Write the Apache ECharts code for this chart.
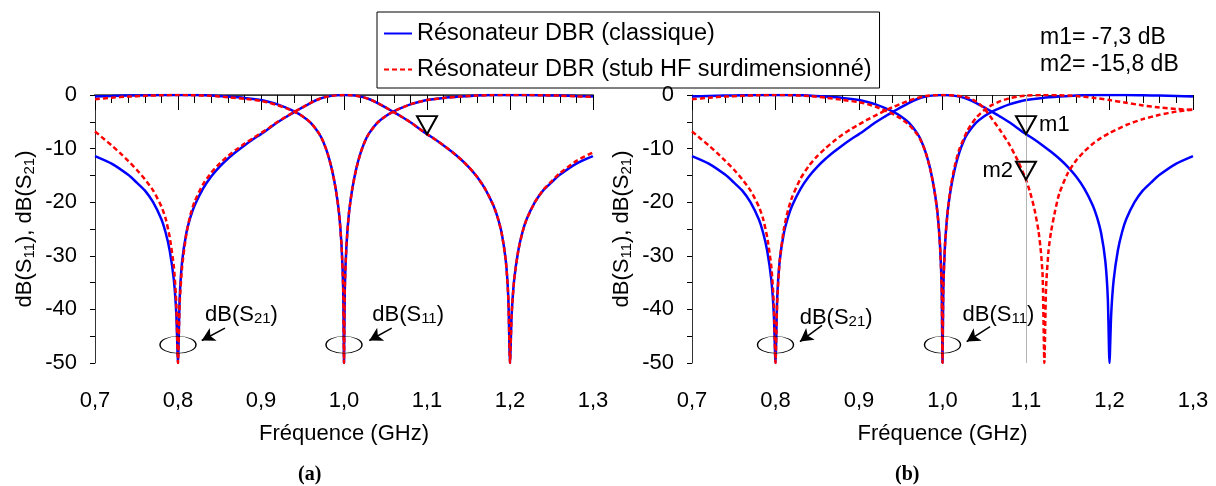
<!DOCTYPE html>
<html>
<head>
<meta charset="utf-8">
<script src="https://cdn.jsdelivr.net/npm/echarts@6/dist/echarts.min.js"></script>
<style>
  html, body { margin: 0; padding: 0; background: #fff; }
  #chart { width: 1216px; height: 486px; }
</style>
</head>
<body>
<div id="chart"></div>
<script>
// [fréquence GHz, dB] lus sur la figure
// résonateur classique (identique sur (a) et (b))
var blueS11 = [[0.70,-0.3],[0.72,-0.2],[0.74,-0.1],[0.76,-0.05],[0.78,0],[0.80,0],[0.82,-0.02],[0.84,-0.1],[0.86,-0.3],[0.88,-0.55],[0.90,-0.95],[0.91,-1.3],[0.92,-1.75],[0.93,-2.35],[0.94,-3.05],[0.95,-3.95],[0.96,-5.2],[0.97,-7.2],[0.975,-8.7],[0.98,-10.8],[0.985,-13.6],[0.99,-17.5],[0.994,-22],[0.997,-28],[0.999,-36],[1.0,-50],[1.001,-36],[1.003,-28],[1.006,-22],[1.01,-17.5],[1.015,-13.6],[1.02,-10.8],[1.025,-8.7],[1.03,-7.2],[1.04,-5.2],[1.05,-3.95],[1.06,-3.05],[1.07,-2.35],[1.08,-1.75],[1.09,-1.3],[1.10,-0.95],[1.12,-0.55],[1.14,-0.3],[1.16,-0.1],[1.18,-0.02],[1.20,0],[1.22,0],[1.24,-0.05],[1.26,-0.1],[1.28,-0.2],[1.30,-0.3]]
var blueS21 = [[0.70,-11.4],[0.72,-12.8],[0.74,-14.9],[0.75,-16.3],[0.76,-17.8],[0.77,-20.0],[0.78,-23.2],[0.785,-25.6],[0.79,-29],[0.795,-34.5],[0.798,-41],[0.80,-50],[0.802,-38],[0.805,-31],[0.81,-25.8],[0.815,-22.8],[0.82,-20.6],[0.83,-17.5],[0.84,-15.2],[0.85,-13.4],[0.86,-11.9],[0.87,-10.6],[0.88,-9.4],[0.89,-8.3],[0.90,-7.3],[0.91,-6.2],[0.92,-5.1],[0.93,-4.1],[0.94,-3.2],[0.95,-2.3],[0.96,-1.45],[0.97,-0.75],[0.98,-0.3],[0.99,-0.07],[1.00,0],[1.01,-0.07],[1.02,-0.3],[1.03,-0.75],[1.04,-1.45],[1.05,-2.3],[1.06,-3.2],[1.07,-4.1],[1.08,-5.1],[1.09,-6.2],[1.10,-7.3],[1.11,-8.3],[1.12,-9.4],[1.13,-10.6],[1.14,-11.9],[1.15,-13.4],[1.16,-15.2],[1.17,-17.5],[1.18,-20.6],[1.185,-22.8],[1.19,-25.8],[1.195,-31],[1.198,-38],[1.20,-50],[1.202,-41],[1.205,-34.5],[1.21,-29],[1.215,-25.6],[1.22,-23.2],[1.23,-20.0],[1.24,-17.8],[1.25,-16.3],[1.26,-14.9],[1.28,-12.8],[1.30,-11.4]]

// stub HF surdimensionné, figure (a)
var redS11a = [[0.70,-0.8],[0.72,-0.5],[0.74,-0.3],[0.76,-0.15],[0.78,-0.05],[0.80,0],[0.82,-0.05],[0.84,-0.15],[0.86,-0.4],[0.88,-0.7],[0.90,-1.1],[0.91,-1.45],[0.92,-1.9],[0.93,-2.45],[0.94,-3.1],[0.95,-3.95],[0.96,-5.2],[0.97,-7.2],[0.975,-8.7],[0.98,-10.8],[0.985,-13.6],[0.99,-17.5],[0.994,-22],[0.997,-28],[0.999,-36],[1.0,-50],[1.001,-36],[1.003,-28],[1.006,-22],[1.01,-17.5],[1.015,-13.6],[1.02,-10.8],[1.025,-8.7],[1.03,-7.2],[1.04,-5.2],[1.05,-3.95],[1.06,-3.05],[1.07,-2.35],[1.08,-1.75],[1.09,-1.3],[1.10,-0.95],[1.12,-0.55],[1.14,-0.3],[1.16,-0.1],[1.18,-0.02],[1.20,0],[1.22,0],[1.24,-0.05],[1.26,-0.12],[1.28,-0.25],[1.30,-0.35]]
var redS21a = [[0.70,-6.8],[0.71,-8.1],[0.72,-9.4],[0.73,-10.8],[0.74,-12.3],[0.75,-13.9],[0.76,-15.7],[0.77,-17.8],[0.78,-20.8],[0.785,-23],[0.79,-26.5],[0.795,-32],[0.798,-39],[0.80,-50],[0.802,-39],[0.805,-32],[0.81,-26],[0.815,-22.3],[0.82,-19.9],[0.83,-16.7],[0.84,-14.5],[0.85,-12.8],[0.86,-11.4],[0.87,-10.2],[0.88,-9.1],[0.89,-8.1],[0.90,-7.1],[0.91,-6.1],[0.92,-5.0],[0.93,-4.05],[0.94,-3.15],[0.95,-2.3],[0.96,-1.45],[0.97,-0.75],[0.98,-0.3],[0.99,-0.07],[1.00,0],[1.01,-0.07],[1.02,-0.3],[1.03,-0.75],[1.04,-1.45],[1.05,-2.3],[1.06,-3.2],[1.07,-4.1],[1.08,-5.1],[1.09,-6.2],[1.10,-7.3],[1.11,-8.3],[1.12,-9.4],[1.13,-10.6],[1.14,-11.9],[1.15,-13.4],[1.16,-15.2],[1.17,-17.5],[1.18,-20.6],[1.185,-22.8],[1.19,-25.8],[1.195,-31],[1.198,-38],[1.20,-50],[1.202,-41],[1.205,-34.5],[1.21,-29],[1.215,-25.6],[1.22,-23.2],[1.23,-20.0],[1.24,-17.7],[1.25,-16.1],[1.26,-14.6],[1.28,-12.3],[1.30,-10.7]]

// stub HF surdimensionné, figure (b)
var redS11b = [[0.70,-0.8],[0.72,-0.5],[0.74,-0.3],[0.76,-0.15],[0.78,-0.05],[0.80,0],[0.82,-0.05],[0.84,-0.2],[0.86,-0.5],[0.88,-0.9],[0.90,-1.35],[0.91,-1.7],[0.92,-2.2],[0.93,-2.8],[0.94,-3.5],[0.95,-4.4],[0.96,-5.6],[0.97,-7.4],[0.975,-8.8],[0.98,-10.8],[0.985,-13.6],[0.99,-17.5],[0.994,-22],[0.997,-28],[0.999,-36],[1.0,-50],[1.001,-36],[1.003,-28],[1.006,-22],[1.01,-17],[1.015,-13],[1.02,-10.2],[1.03,-6.6],[1.04,-4.3],[1.05,-2.8],[1.06,-1.8],[1.07,-1.1],[1.08,-0.6],[1.09,-0.3],[1.10,-0.1],[1.12,0],[1.14,-0.05],[1.16,-0.2],[1.18,-0.5],[1.20,-0.95],[1.22,-1.45],[1.24,-1.95],[1.26,-2.35],[1.28,-2.6],[1.30,-2.8]]
var redS21b = [[0.70,-6.8],[0.71,-8.1],[0.72,-9.4],[0.73,-10.8],[0.74,-12.3],[0.75,-13.9],[0.76,-15.7],[0.77,-17.8],[0.78,-20.8],[0.785,-23],[0.79,-26.5],[0.795,-32],[0.798,-39],[0.80,-50],[0.802,-39],[0.805,-31],[0.81,-25],[0.815,-21.5],[0.82,-19],[0.83,-15.6],[0.84,-13.2],[0.85,-11.4],[0.86,-9.9],[0.87,-8.6],[0.88,-7.4],[0.89,-6.4],[0.90,-5.5],[0.91,-4.6],[0.92,-3.8],[0.93,-3.0],[0.94,-2.3],[0.95,-1.65],[0.96,-1.05],[0.97,-0.55],[0.98,-0.2],[0.99,-0.05],[1.00,0],[1.01,-0.05],[1.02,-0.2],[1.03,-0.5],[1.04,-1.2],[1.05,-2.5],[1.06,-4.6],[1.07,-6.8],[1.08,-9.2],[1.09,-12.2],[1.10,-15.8],[1.105,-18.2],[1.11,-21.2],[1.115,-25.4],[1.118,-29.5],[1.12,-34],[1.122,-50],[1.124,-36],[1.127,-29],[1.13,-25.5],[1.135,-21.5],[1.14,-18.3],[1.15,-14.6],[1.16,-12.2],[1.17,-10.5],[1.18,-9.1],[1.19,-8.0],[1.20,-7.1],[1.22,-5.6],[1.24,-4.5],[1.26,-3.7],[1.28,-3.1],[1.30,-2.7]]

// marqueurs m1 / m2 (GHz, dB)
var markerNames = ['m1', 'm2']
var markerFreq = [1.1, 1.1]
var markerDb = [-7.3, -15.8]

var nameClassic = 'Résonateur DBR (classique)'
var nameStub = 'Résonateur DBR (stub HF surdimensionné)'

var FONT = 'Liberation Sans, Arial, sans-serif'
var chart = echarts.init(document.getElementById('chart'))

var subRich = {
  n: { fontSize: 22, color: '#000', fontFamily: FONT },
  s: { fontSize: 15, color: '#000', fontFamily: FONT, padding: [9, 0, 0, 0] }
}

// annotations (ellipse + flèche + texte) en coordonnées des données
var annot = [
  { s21Label: [0.8325, -41], s11Label: [1.034, -41], s21Arrow: [[0.8566, -43.5], [0.8286, -45.8]], s11Arrow: [[1.0575, -43.5], [1.0305, -45.8]] },
  { s21Label: [0.829, -41.5], s11Label: [1.024, -41], s21Arrow: [[0.8557, -43], [0.8293, -46]], s11Arrow: [[1.057, -43.2], [1.029, -46]] }
]

function xAxisBottom (g) {
  return {
    type: 'value', gridIndex: g, min: 0.7, max: 1.3, interval: 0.1,
    axisLine: { show: true, lineStyle: { color: g === 0 ? '#666' : '#000', width: g === 0 ? 2 : 1 } },
    axisTick: { show: true, length: 15, lineStyle: { color: '#000' } },
    minorTick: { show: true, splitNumber: 5, length: 8, lineStyle: { color: '#000' } },
    splitLine: { show: false },
    axisLabel: {
      margin: 27, fontSize: 22, color: '#000', fontFamily: FONT,
      formatter: function (v) { return v.toFixed(1).replace('.', ',') }
    },
    name: 'Fréquence (GHz)', nameLocation: 'middle', nameGap: 60,
    nameTextStyle: { fontSize: 22, color: '#000', fontFamily: FONT }
  }
}
function xAxisTop (g) {
  return {
    type: 'value', gridIndex: g, position: 'top', min: 0.7, max: 1.3,
    axisLine: { show: true, lineStyle: { color: '#333', width: 1 } },
    axisTick: { show: false }, axisLabel: { show: false }, splitLine: { show: false }
  }
}
function yAxis (g) {
  return {
    type: 'value', gridIndex: g, min: -50, max: 0, interval: 10,
    axisLine: { show: true, lineStyle: { color: '#333', width: 1 } },
    axisTick: { show: true, length: 5, lineStyle: { color: '#000' } },
    minorTick: { show: true, splitNumber: 2, length: 5, lineStyle: { color: '#000' } },
    splitLine: { show: false },
    axisLabel: { margin: 18, fontSize: 22, color: '#000', fontFamily: FONT },
    name: '{n|dB(S}{s|11}{n|), dB(S}{s|21}{n|)}',
    nameLocation: 'middle', nameRotate: 90, nameGap: 58,
    nameTextStyle: { rich: subRich }
  }
}

function lineSeries (name, data, g, red) {
  return {
    type: 'line', name: name, data: data,
    xAxisIndex: g * 2, yAxisIndex: g,
    symbol: 'none', smooth: 0.2, silent: true,
    lineStyle: red ? { color: '#ff0000', width: 2.5, type: [5, 3] } : { color: '#0000ff', width: 2.5 },
    itemStyle: { color: red ? '#ff0000' : '#0000ff' },
    z: red ? 3 : 2
  }
}

function markerPoints (g) {
  var pts = []
  var n = g === 0 ? 1 : 2
  for (var i = 0; i < n; i++) {
    pts.push({
      coord: [markerFreq[i], markerDb[i]],
      symbol: 'triangle', symbolRotate: 180, symbolSize: [20, 18], symbolOffset: [0, -9],
      itemStyle: { color: 'rgba(0,0,0,0)', borderColor: '#000', borderWidth: 2 },
      label: {
        show: g === 1, formatter: markerNames[i], position: i === 0 ? 'right' : 'left',
        distance: 2, fontSize: 22, color: '#000', fontFamily: FONT
      }
    })
  }
  return pts
}

function annotSeries (g) {
  var a = annot[g]
  var ellipse = {
    symbol: 'circle', symbolSize: [36, 17],
    itemStyle: { color: 'rgba(0,0,0,0)', borderColor: '#000', borderWidth: 1 },
    label: { show: false }
  }
  var text = function (pos, sub) {
    return {
      coord: pos, symbolSize: 0, itemStyle: { color: 'rgba(0,0,0,0)' },
      label: { show: true, position: 'right', distance: 0, formatter: '{n|dB(S}{s|' + sub + '}{n|)}', rich: subRich }
    }
  }
  var pts = markerPoints(g).concat([
    Object.assign({ coord: [0.8, -46.6] }, ellipse),
    Object.assign({ coord: [1.0, -46.6] }, ellipse),
    text(a.s21Label, '21'),
    text(a.s11Label, '11')
  ])
  return {
    type: 'line', data: [], xAxisIndex: g * 2, yAxisIndex: g, silent: true, z: 5,
    markPoint: { silent: true, animation: false, data: pts },
    markLine: {
      silent: true, animation: false, symbol: ['none', 'arrow'], symbolSize: [11, 13],
      lineStyle: { color: '#000', width: 1.5, type: 'solid' }, label: { show: false },
      data: [
        [{ coord: a.s21Arrow[0] }, { coord: a.s21Arrow[1] }],
        [{ coord: a.s11Arrow[0] }, { coord: a.s11Arrow[1] }]
      ]
    }
  }
}

var option = {
  animation: false,
  backgroundColor: '#fff',
  textStyle: { fontFamily: FONT },
  legend: {
    data: [nameClassic, nameStub],
    orient: 'vertical', left: 377, top: 12,
    padding: [9, 8, 6, 6], itemWidth: 28, itemHeight: 14, itemGap: 11,
    itemStyle: { opacity: 0 },
    borderColor: '#000', borderWidth: 1, borderRadius: 0,
    textStyle: { fontSize: 23.5, lineHeight: 25, color: '#000', fontFamily: FONT }
  },
  grid: [
    { left: 95, top: 95, width: 498, height: 268 },
    { left: 692, top: 95, width: 501, height: 268 }
  ],
  xAxis: [xAxisBottom(0), xAxisTop(0), xAxisBottom(1), xAxisTop(1)],
  yAxis: [yAxis(0), yAxis(1)],
  series: [
    lineSeries(nameClassic, blueS11, 0, false),
    lineSeries(nameClassic, blueS21, 0, false),
    lineSeries(nameStub, redS11a, 0, true),
    lineSeries(nameStub, redS21a, 0, true),
    annotSeries(0),
    {
      type: 'line', data: [], xAxisIndex: 2, yAxisIndex: 1, silent: true, z: 1,
      markLine: {
        silent: true, animation: false, symbol: ['none', 'none'], label: { show: false },
        lineStyle: { color: '#b4b4b4', width: 1, type: 'solid' },
        data: [{ xAxis: markerFreq[0] }]
      }
    },
    lineSeries(nameClassic, blueS11, 1, false),
    lineSeries(nameClassic, blueS21, 1, false),
    lineSeries(nameStub, redS11b, 1, true),
    lineSeries(nameStub, redS21b, 1, true),
    annotSeries(1)
  ],
  graphic: [
    { type: 'text', left: 1040, top: 26, style: { text: markerNames[0] + '= ' + String(markerDb[0]).replace('.', ',') + ' dB', fontSize: 23, fill: '#000', fontFamily: FONT } },
    { type: 'text', left: 1040, top: 53, style: { text: markerNames[1] + '= ' + String(markerDb[1]).replace('.', ',') + ' dB', fontSize: 23, fill: '#000', fontFamily: FONT } },
    { type: 'text', left: 298, top: 465, style: { text: '(a)', fontSize: 20, fontWeight: 'bold', fill: '#000', fontFamily: 'Liberation Serif, Times New Roman, serif' } },
    { type: 'text', left: 895, top: 465, style: { text: '(b)', fontSize: 20, fontWeight: 'bold', fill: '#000', fontFamily: 'Liberation Serif, Times New Roman, serif' } }
  ]
}

chart.setOption(option)
</script>
</body>
</html>
